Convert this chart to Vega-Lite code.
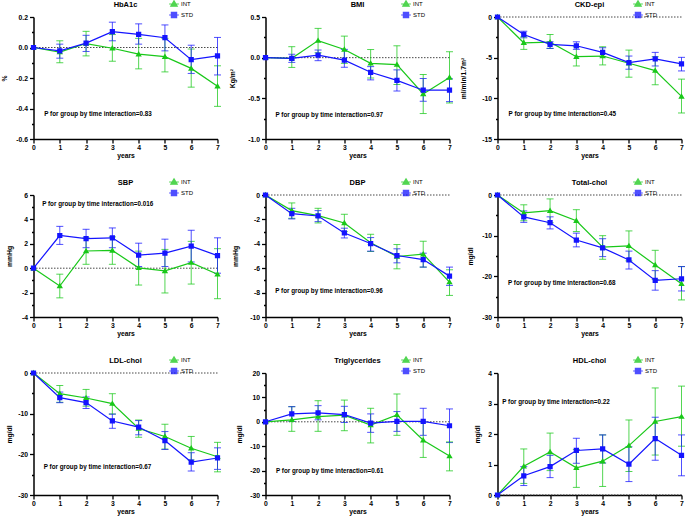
{
"$schema":"https://vega.github.io/schema/vega-lite/v6.json",
"padding":{"left":1.5,"top":-1,"right":2,"bottom":2},
"background":"white",
"columns":3,
"spacing":{"row":56,"column":48},
"bounds":"flush",
"data":{"name":"main"},
"datasets":{
"notes":[
{"p":"HbA1c","x":0.41,"y":-0.437,"t":"P for group by time interaction=0.83"},
{"p":"BMI","x":0.38,"y":-0.706,"t":"P for group by time interaction=0.97"},
{"p":"CKD-epi","x":0.42,"y":-11.87,"t":"P for group by time interaction=0.45"},
{"p":"SBP","x":0.33,"y":5.24,"t":"P for group by time interaction=0.016"},
{"p":"DBP","x":0.37,"y":-7.9,"t":"P for group by time interaction=0.96"},
{"p":"Total-chol","x":0.40,"y":-21.65,"t":"P for group by time interaction=0.68"},
{"p":"LDL-chol","x":0.39,"y":-23.1,"t":"P for group by time interaction=0.67"},
{"p":"Triglycerides","x":0.40,"y":-20.1,"t":"P for group by time interaction=0.61"},
{"p":"HDL-chol","x":0.18,"y":3.04,"t":"P for group by time interaction=0.22"}
],
"main":[
{"p":"HbA1c","g":"INT","x":0,"m":0,"lo":0,"hi":0},
{"p":"HbA1c","g":"INT","x":1,"m":-0.03,"lo":-0.10,"hi":0.044},
{"p":"HbA1c","g":"INT","x":2,"m":0.026,"lo":-0.055,"hi":0.106},
{"p":"HbA1c","g":"INT","x":3,"m":-0.005,"lo":-0.09,"hi":0.085},
{"p":"HbA1c","g":"INT","x":4,"m":-0.044,"lo":-0.14,"hi":0.06},
{"p":"HbA1c","g":"INT","x":5,"m":-0.06,"lo":-0.16,"hi":0.06},
{"p":"HbA1c","g":"INT","x":6,"m":-0.137,"lo":-0.26,"hi":-0.01},
{"p":"HbA1c","g":"INT","x":7,"m":-0.254,"lo":-0.386,"hi":-0.12},
{"p":"HbA1c","g":"STD","x":0,"m":0,"lo":0,"hi":0},
{"p":"HbA1c","g":"STD","x":1,"m":-0.022,"lo":-0.07,"hi":0.022},
{"p":"HbA1c","g":"STD","x":2,"m":0.029,"lo":-0.026,"hi":0.08},
{"p":"HbA1c","g":"STD","x":3,"m":0.104,"lo":0.044,"hi":0.166},
{"p":"HbA1c","g":"STD","x":4,"m":0.086,"lo":0.022,"hi":0.155},
{"p":"HbA1c","g":"STD","x":5,"m":0.064,"lo":-0.022,"hi":0.148},
{"p":"HbA1c","g":"STD","x":6,"m":-0.08,"lo":-0.17,"hi":0.015},
{"p":"HbA1c","g":"STD","x":7,"m":-0.055,"lo":-0.18,"hi":0.066},
{"p":"BMI","g":"INT","x":0,"m":0,"lo":0,"hi":0},
{"p":"BMI","g":"INT","x":1,"m":-0.008,"lo":-0.12,"hi":0.135},
{"p":"BMI","g":"INT","x":2,"m":0.21,"lo":0.06,"hi":0.36},
{"p":"BMI","g":"INT","x":3,"m":0.10,"lo":-0.07,"hi":0.265},
{"p":"BMI","g":"INT","x":4,"m":-0.07,"lo":-0.25,"hi":0.10},
{"p":"BMI","g":"INT","x":5,"m":-0.085,"lo":-0.33,"hi":0.146},
{"p":"BMI","g":"INT","x":6,"m":-0.447,"lo":-0.687,"hi":-0.207},
{"p":"BMI","g":"INT","x":7,"m":-0.244,"lo":-0.557,"hi":0.073},
{"p":"BMI","g":"STD","x":0,"m":0,"lo":0,"hi":0},
{"p":"BMI","g":"STD","x":1,"m":-0.008,"lo":-0.058,"hi":0.042},
{"p":"BMI","g":"STD","x":2,"m":0.03,"lo":-0.037,"hi":0.094},
{"p":"BMI","g":"STD","x":3,"m":-0.03,"lo":-0.118,"hi":0.102},
{"p":"BMI","g":"STD","x":4,"m":-0.18,"lo":-0.273,"hi":-0.11},
{"p":"BMI","g":"STD","x":5,"m":-0.28,"lo":-0.41,"hi":-0.15},
{"p":"BMI","g":"STD","x":6,"m":-0.40,"lo":-0.536,"hi":-0.256},
{"p":"BMI","g":"STD","x":7,"m":-0.40,"lo":-0.54,"hi":-0.26},
{"p":"CKD-epi","g":"INT","x":0,"m":0,"lo":0,"hi":0},
{"p":"CKD-epi","g":"INT","x":1,"m":-3.17,"lo":-3.98,"hi":-2.44},
{"p":"CKD-epi","g":"INT","x":2,"m":-3.09,"lo":-3.86,"hi":-2.15},
{"p":"CKD-epi","g":"INT","x":3,"m":-4.88,"lo":-6.02,"hi":-3.66},
{"p":"CKD-epi","g":"INT","x":4,"m":-4.8,"lo":-5.89,"hi":-3.66},
{"p":"CKD-epi","g":"INT","x":5,"m":-5.69,"lo":-7.4,"hi":-4.07},
{"p":"CKD-epi","g":"INT","x":6,"m":-6.59,"lo":-8.33,"hi":-4.88},
{"p":"CKD-epi","g":"INT","x":7,"m":-9.76,"lo":-11.8,"hi":-7.64},
{"p":"CKD-epi","g":"STD","x":0,"m":0,"lo":0,"hi":0},
{"p":"CKD-epi","g":"STD","x":1,"m":-2.15,"lo":-2.56,"hi":-1.75},
{"p":"CKD-epi","g":"STD","x":2,"m":-3.37,"lo":-3.86,"hi":-3.05},
{"p":"CKD-epi","g":"STD","x":3,"m":-3.54,"lo":-3.98,"hi":-3.05},
{"p":"CKD-epi","g":"STD","x":4,"m":-4.35,"lo":-4.88,"hi":-3.78},
{"p":"CKD-epi","g":"STD","x":5,"m":-5.61,"lo":-6.42,"hi":-4.8},
{"p":"CKD-epi","g":"STD","x":6,"m":-5.16,"lo":-6.02,"hi":-4.35},
{"p":"CKD-epi","g":"STD","x":7,"m":-5.77,"lo":-6.63,"hi":-4.96},
{"p":"SBP","g":"INT","x":0,"m":0,"lo":0,"hi":0},
{"p":"SBP","g":"INT","x":1,"m":-1.46,"lo":-2.43,"hi":-0.49},
{"p":"SBP","g":"INT","x":2,"m":1.41,"lo":0.32,"hi":2.49},
{"p":"SBP","g":"INT","x":3,"m":1.46,"lo":0.32,"hi":2.57},
{"p":"SBP","g":"INT","x":4,"m":0.03,"lo":-1.38,"hi":1.4},
{"p":"SBP","g":"INT","x":5,"m":-0.22,"lo":-2.03,"hi":1.54},
{"p":"SBP","g":"INT","x":6,"m":0.46,"lo":-1.3,"hi":2.2},
{"p":"SBP","g":"INT","x":7,"m":-0.49,"lo":-2.5,"hi":1.6},
{"p":"SBP","g":"STD","x":0,"m":0,"lo":0,"hi":0},
{"p":"SBP","g":"STD","x":1,"m":2.68,"lo":1.95,"hi":3.43},
{"p":"SBP","g":"STD","x":2,"m":2.43,"lo":1.68,"hi":3.19},
{"p":"SBP","g":"STD","x":3,"m":2.49,"lo":1.68,"hi":3.30},
{"p":"SBP","g":"STD","x":4,"m":1.08,"lo":0.14,"hi":2.05},
{"p":"SBP","g":"STD","x":5,"m":1.24,"lo":0.14,"hi":2.38},
{"p":"SBP","g":"STD","x":6,"m":1.81,"lo":0.51,"hi":3.11},
{"p":"SBP","g":"STD","x":7,"m":1.03,"lo":-0.41,"hi":2.49},
{"p":"DBP","g":"INT","x":0,"m":0,"lo":0,"hi":0},
{"p":"DBP","g":"INT","x":1,"m":-1.28,"lo":-1.91,"hi":-0.65},
{"p":"DBP","g":"INT","x":2,"m":-1.69,"lo":-2.29,"hi":-1.09},
{"p":"DBP","g":"INT","x":3,"m":-2.29,"lo":-3.0,"hi":-1.58},
{"p":"DBP","g":"INT","x":4,"m":-3.92,"lo":-4.63,"hi":-3.22},
{"p":"DBP","g":"INT","x":5,"m":-5.04,"lo":-6.05,"hi":-4.06},
{"p":"DBP","g":"INT","x":6,"m":-4.85,"lo":-5.91,"hi":-3.79},
{"p":"DBP","g":"INT","x":7,"m":-7.14,"lo":-8.23,"hi":-6.13},
{"p":"DBP","g":"STD","x":0,"m":0,"lo":0,"hi":0},
{"p":"DBP","g":"STD","x":1,"m":-1.53,"lo":-1.96,"hi":-1.09},
{"p":"DBP","g":"STD","x":2,"m":-1.72,"lo":-2.18,"hi":-1.28},
{"p":"DBP","g":"STD","x":3,"m":-3.11,"lo":-3.52,"hi":-2.72},
{"p":"DBP","g":"STD","x":4,"m":-3.98,"lo":-4.6,"hi":-3.49},
{"p":"DBP","g":"STD","x":5,"m":-4.96,"lo":-5.56,"hi":-4.41},
{"p":"DBP","g":"STD","x":6,"m":-5.29,"lo":-5.91,"hi":-4.77},
{"p":"DBP","g":"STD","x":7,"m":-6.65,"lo":-7.41,"hi":-5.91},
{"p":"Total-chol","g":"INT","x":0,"m":0,"lo":0,"hi":0},
{"p":"Total-chol","g":"INT","x":1,"m":-4.41,"lo":-6.33,"hi":-2.41},
{"p":"Total-chol","g":"INT","x":2,"m":-3.85,"lo":-6.82,"hi":-0.96},
{"p":"Total-chol","g":"INT","x":3,"m":-6.33,"lo":-8.99,"hi":-3.61},
{"p":"Total-chol","g":"INT","x":4,"m":-12.8,"lo":-15.8,"hi":-10.0},
{"p":"Total-chol","g":"INT","x":5,"m":-12.5,"lo":-16.2,"hi":-8.83},
{"p":"Total-chol","g":"INT","x":6,"m":-17.2,"lo":-20.8,"hi":-13.6},
{"p":"Total-chol","g":"INT","x":7,"m":-21.8,"lo":-25.8,"hi":-17.6},
{"p":"Total-chol","g":"STD","x":0,"m":0,"lo":0,"hi":0},
{"p":"Total-chol","g":"STD","x":1,"m":-5.37,"lo":-6.73,"hi":-3.93},
{"p":"Total-chol","g":"STD","x":2,"m":-6.82,"lo":-8.34,"hi":-5.37},
{"p":"Total-chol","g":"STD","x":3,"m":-11.07,"lo":-12.75,"hi":-9.38},
{"p":"Total-chol","g":"STD","x":4,"m":-13.0,"lo":-15.15,"hi":-10.75},
{"p":"Total-chol","g":"STD","x":5,"m":-15.96,"lo":-18.2,"hi":-13.8},
{"p":"Total-chol","g":"STD","x":6,"m":-21.0,"lo":-23.4,"hi":-18.6},
{"p":"Total-chol","g":"STD","x":7,"m":-20.6,"lo":-23.6,"hi":-17.6},
{"p":"LDL-chol","g":"INT","x":0,"m":0,"lo":0,"hi":0},
{"p":"LDL-chol","g":"INT","x":1,"m":-5.09,"lo":-7.2,"hi":-3.07},
{"p":"LDL-chol","g":"INT","x":2,"m":-6.14,"lo":-8.16,"hi":-4.04},
{"p":"LDL-chol","g":"INT","x":3,"m":-7.52,"lo":-10.1,"hi":-5.09},
{"p":"LDL-chol","g":"INT","x":4,"m":-13.66,"lo":-15.8,"hi":-11.56},
{"p":"LDL-chol","g":"INT","x":5,"m":-15.6,"lo":-18.7,"hi":-12.6},
{"p":"LDL-chol","g":"INT","x":6,"m":-18.5,"lo":-21.4,"hi":-15.6},
{"p":"LDL-chol","g":"INT","x":7,"m":-20.6,"lo":-24.3,"hi":-17.05},
{"p":"LDL-chol","g":"STD","x":0,"m":0,"lo":0,"hi":0},
{"p":"LDL-chol","g":"STD","x":1,"m":-6.06,"lo":-7.3,"hi":-4.69},
{"p":"LDL-chol","g":"STD","x":2,"m":-7.27,"lo":-8.73,"hi":-5.9},
{"p":"LDL-chol","g":"STD","x":3,"m":-11.8,"lo":-13.6,"hi":-10.1},
{"p":"LDL-chol","g":"STD","x":4,"m":-13.3,"lo":-15.2,"hi":-11.7},
{"p":"LDL-chol","g":"STD","x":5,"m":-16.6,"lo":-18.8,"hi":-14.4},
{"p":"LDL-chol","g":"STD","x":6,"m":-21.9,"lo":-24.1,"hi":-19.6},
{"p":"LDL-chol","g":"STD","x":7,"m":-20.9,"lo":-23.7,"hi":-18.4},
{"p":"Triglycerides","g":"INT","x":0,"m":0,"lo":0,"hi":0},
{"p":"Triglycerides","g":"INT","x":1,"m":0.81,"lo":-3.9,"hi":6.2},
{"p":"Triglycerides","g":"INT","x":2,"m":2.16,"lo":-3.9,"hi":8.65},
{"p":"Triglycerides","g":"INT","x":3,"m":2.7,"lo":-3.65,"hi":8.9},
{"p":"Triglycerides","g":"INT","x":4,"m":-1.35,"lo":-8.65,"hi":5.54},
{"p":"Triglycerides","g":"INT","x":5,"m":2.84,"lo":-5.54,"hi":11.4},
{"p":"Triglycerides","g":"INT","x":6,"m":-7.57,"lo":-14.6,"hi":-0.14},
{"p":"Triglycerides","g":"INT","x":7,"m":-14.05,"lo":-20.1,"hi":-8.24},
{"p":"Triglycerides","g":"STD","x":0,"m":0,"lo":0,"hi":0},
{"p":"Triglycerides","g":"STD","x":1,"m":3.24,"lo":0.14,"hi":6.2},
{"p":"Triglycerides","g":"STD","x":2,"m":3.65,"lo":0.81,"hi":6.62},
{"p":"Triglycerides","g":"STD","x":3,"m":2.97,"lo":-0.27,"hi":6.35},
{"p":"Triglycerides","g":"STD","x":4,"m":-0.54,"lo":-4.32,"hi":3.24},
{"p":"Triglycerides","g":"STD","x":5,"m":0.14,"lo":-3.92,"hi":4.19},
{"p":"Triglycerides","g":"STD","x":6,"m":0.14,"lo":-5.54,"hi":5.54},
{"p":"Triglycerides","g":"STD","x":7,"m":-1.62,"lo":-8.51,"hi":5.27},
{"p":"HDL-chol","g":"INT","x":0,"m":0,"lo":0,"hi":0},
{"p":"HDL-chol","g":"INT","x":1,"m":0.94,"lo":0.38,"hi":1.51},
{"p":"HDL-chol","g":"INT","x":2,"m":1.41,"lo":0.8,"hi":2.03},
{"p":"HDL-chol","g":"INT","x":3,"m":0.89,"lo":0.25,"hi":1.49},
{"p":"HDL-chol","g":"INT","x":4,"m":1.11,"lo":0.28,"hi":1.97},
{"p":"HDL-chol","g":"INT","x":5,"m":1.62,"lo":0.77,"hi":2.46},
{"p":"HDL-chol","g":"INT","x":6,"m":2.41,"lo":1.31,"hi":3.51},
{"p":"HDL-chol","g":"INT","x":7,"m":2.57,"lo":1.6,"hi":3.57},
{"p":"HDL-chol","g":"STD","x":0,"m":0,"lo":0,"hi":0},
{"p":"HDL-chol","g":"STD","x":1,"m":0.63,"lo":0.31,"hi":0.93},
{"p":"HDL-chol","g":"STD","x":2,"m":0.93,"lo":0.57,"hi":1.30},
{"p":"HDL-chol","g":"STD","x":3,"m":1.46,"lo":1.04,"hi":1.86},
{"p":"HDL-chol","g":"STD","x":4,"m":1.51,"lo":1.05,"hi":1.97},
{"p":"HDL-chol","g":"STD","x":5,"m":1.01,"lo":0.44,"hi":1.58},
{"p":"HDL-chol","g":"STD","x":6,"m":1.85,"lo":1.14,"hi":2.55},
{"p":"HDL-chol","g":"STD","x":7,"m":1.30,"lo":0.63,"hi":1.97}
]},
"concat":[
{"width":184,"height":122,"title":"HbA1c","layer":[
 {"transform":[{"filter":"datum.p=='HbA1c' && datum.x==0 && datum.g=='INT'"}],"mark":{"type":"rule","strokeDash":[1.5,1.5],"color":"#333","strokeWidth":0.9},"encoding":{"y":{"datum":0,"type":"quantitative","scale":{"domain":[-0.6,0.2],"nice":false,"zero":false},"axis":{"title":"%","titlePadding":8,"values":[-0.6,-0.5,-0.4,-0.3,-0.2,-0.1,0,0.1,0.2],"format":".1f","labelExpr":"abs(round(datum.value*10))%2==0 ? replace(datum.label,'−','-') : ''","tickSize":{"condition":{"test":"abs(round(datum.value*10))%2==0","value":4},"value":2}}}}},
 {"transform":[{"filter":"datum.p=='HbA1c' && datum.x>0"}],"mark":{"type":"errorbar","ticks":true,"size":7,"thickness":1,"opacity":0.75},"encoding":{"x":{"field":"x","type":"quantitative","scale":{"domain":[0,7],"nice":false},"axis":{"title":"years","values":[0,1,2,3,4,5,6,7],"format":"d"}},"y":{"field":"lo","type":"quantitative","scale":{"domain":[-0.6,0.2],"nice":false,"zero":false},"axis":{"title":"%","titlePadding":8,"values":[-0.6,-0.5,-0.4,-0.3,-0.2,-0.1,0,0.1,0.2],"format":".1f","labelExpr":"abs(round(datum.value*10))%2==0 ? replace(datum.label,'−','-') : ''","tickSize":{"condition":{"test":"abs(round(datum.value*10))%2==0","value":4},"value":2}}},"y2":{"field":"hi"},"color":{"field":"g","type":"nominal","scale":{"domain":["INT","STD"],"range":["#19c819","#1414ff"]}}}},
 {"transform":[{"filter":"datum.p=='HbA1c'"}],"mark":{"type":"line","strokeWidth":1.2},"encoding":{"x":{"field":"x","type":"quantitative","scale":{"domain":[0,7],"nice":false},"axis":{"title":"years","values":[0,1,2,3,4,5,6,7],"format":"d"}},"y":{"field":"m","type":"quantitative","scale":{"domain":[-0.6,0.2],"nice":false,"zero":false},"axis":{"title":"%","titlePadding":8,"values":[-0.6,-0.5,-0.4,-0.3,-0.2,-0.1,0,0.1,0.2],"format":".1f","labelExpr":"abs(round(datum.value*10))%2==0 ? replace(datum.label,'−','-') : ''","tickSize":{"condition":{"test":"abs(round(datum.value*10))%2==0","value":4},"value":2}}},"color":{"field":"g","type":"nominal","scale":{"domain":["INT","STD"],"range":["#19c819","#1414ff"]}}}},
 {"transform":[{"filter":"datum.p=='HbA1c'"}],"mark":{"type":"point","filled":true,"size":56,"strokeWidth":0,"opacity":1},"encoding":{"x":{"field":"x","type":"quantitative","scale":{"domain":[0,7],"nice":false},"axis":{"title":"years","values":[0,1,2,3,4,5,6,7],"format":"d"}},"y":{"field":"m","type":"quantitative","scale":{"domain":[-0.6,0.2],"nice":false,"zero":false},"axis":{"title":"%","titlePadding":8,"values":[-0.6,-0.5,-0.4,-0.3,-0.2,-0.1,0,0.1,0.2],"format":".1f","labelExpr":"abs(round(datum.value*10))%2==0 ? replace(datum.label,'−','-') : ''","tickSize":{"condition":{"test":"abs(round(datum.value*10))%2==0","value":4},"value":2}}},"color":{"field":"g","type":"nominal","scale":{"domain":["INT","STD"],"range":["#19c819","#1414ff"]},"legend":{"title":null,"orient":"none","legendX":136,"legendY":-17.5,"encode":{"symbols":{"update":{"stroke":{"signal":"datum.value=='INT' ? '#19c819' : '#1414ff'"},"strokeWidth":{"value":1.2}}}}}},"shape":{"field":"g","type":"nominal","scale":{"domain":["INT","STD"],"range":["M-1.3,0H1.3M0,-0.85L0.85,0.6L-0.85,0.6Z","M-1.3,0H1.3M-0.7,-0.7H0.7V0.7H-0.7Z"]},"legend":{"title":null,"orient":"none","legendX":136,"legendY":-17.5,"encode":{"symbols":{"update":{"stroke":{"signal":"datum.value=='INT' ? '#19c819' : '#1414ff'"},"strokeWidth":{"value":1.2}}}}}}}},
 {"data":{"name":"notes"},"transform":[{"filter":"datum.p=='HbA1c'"}],"mark":{"type":"text","align":"left","baseline":"middle","fontWeight":"bold","fontSize":6.3,"color":"black"},"encoding":{"x":{"field":"x","type":"quantitative","axis":{"title":"years","values":[0,1,2,3,4,5,6,7],"format":"d"}},"y":{"field":"y","type":"quantitative","axis":{"title":"%","titlePadding":8,"values":[-0.6,-0.5,-0.4,-0.3,-0.2,-0.1,0,0.1,0.2],"format":".1f","labelExpr":"abs(round(datum.value*10))%2==0 ? replace(datum.label,'−','-') : ''","tickSize":{"condition":{"test":"abs(round(datum.value*10))%2==0","value":4},"value":2}}},"text":{"field":"t"}}}
]},
{"width":184,"height":122,"title":"BMI","layer":[
 {"transform":[{"filter":"datum.p=='BMI' && datum.x==0 && datum.g=='INT'"}],"mark":{"type":"rule","strokeDash":[1.5,1.5],"color":"#333","strokeWidth":0.9},"encoding":{"y":{"datum":0,"type":"quantitative","scale":{"domain":[-1,0.5],"nice":false,"zero":false},"axis":{"title":"Kg/m²","titlePadding":12,"values":[-1,-0.75,-0.5,-0.25,0,0.25,0.5],"format":".1f","labelExpr":"abs(round(datum.value*4))%2==0 ? replace(datum.label,'−','-') : ''","tickSize":{"condition":{"test":"abs(round(datum.value*4))%2==0","value":4},"value":2}}}}},
 {"transform":[{"filter":"datum.p=='BMI' && datum.x>0"}],"mark":{"type":"errorbar","ticks":true,"size":7,"thickness":1,"opacity":0.75},"encoding":{"x":{"field":"x","type":"quantitative","scale":{"domain":[0,7],"nice":false},"axis":{"title":"years","values":[0,1,2,3,4,5,6,7],"format":"d"}},"y":{"field":"lo","type":"quantitative","scale":{"domain":[-1,0.5],"nice":false,"zero":false},"axis":{"title":"Kg/m²","titlePadding":12,"values":[-1,-0.75,-0.5,-0.25,0,0.25,0.5],"format":".1f","labelExpr":"abs(round(datum.value*4))%2==0 ? replace(datum.label,'−','-') : ''","tickSize":{"condition":{"test":"abs(round(datum.value*4))%2==0","value":4},"value":2}}},"y2":{"field":"hi"},"color":{"field":"g","type":"nominal","scale":{"domain":["INT","STD"],"range":["#19c819","#1414ff"]}}}},
 {"transform":[{"filter":"datum.p=='BMI'"}],"mark":{"type":"line","strokeWidth":1.2},"encoding":{"x":{"field":"x","type":"quantitative","scale":{"domain":[0,7],"nice":false},"axis":{"title":"years","values":[0,1,2,3,4,5,6,7],"format":"d"}},"y":{"field":"m","type":"quantitative","scale":{"domain":[-1,0.5],"nice":false,"zero":false},"axis":{"title":"Kg/m²","titlePadding":12,"values":[-1,-0.75,-0.5,-0.25,0,0.25,0.5],"format":".1f","labelExpr":"abs(round(datum.value*4))%2==0 ? replace(datum.label,'−','-') : ''","tickSize":{"condition":{"test":"abs(round(datum.value*4))%2==0","value":4},"value":2}}},"color":{"field":"g","type":"nominal","scale":{"domain":["INT","STD"],"range":["#19c819","#1414ff"]}}}},
 {"transform":[{"filter":"datum.p=='BMI'"}],"mark":{"type":"point","filled":true,"size":56,"strokeWidth":0,"opacity":1},"encoding":{"x":{"field":"x","type":"quantitative","scale":{"domain":[0,7],"nice":false},"axis":{"title":"years","values":[0,1,2,3,4,5,6,7],"format":"d"}},"y":{"field":"m","type":"quantitative","scale":{"domain":[-1,0.5],"nice":false,"zero":false},"axis":{"title":"Kg/m²","titlePadding":12,"values":[-1,-0.75,-0.5,-0.25,0,0.25,0.5],"format":".1f","labelExpr":"abs(round(datum.value*4))%2==0 ? replace(datum.label,'−','-') : ''","tickSize":{"condition":{"test":"abs(round(datum.value*4))%2==0","value":4},"value":2}}},"color":{"field":"g","type":"nominal","scale":{"domain":["INT","STD"],"range":["#19c819","#1414ff"]},"legend":{"title":null,"orient":"none","legendX":136,"legendY":-17.5,"encode":{"symbols":{"update":{"stroke":{"signal":"datum.value=='INT' ? '#19c819' : '#1414ff'"},"strokeWidth":{"value":1.2}}}}}},"shape":{"field":"g","type":"nominal","scale":{"domain":["INT","STD"],"range":["M-1.3,0H1.3M0,-0.85L0.85,0.6L-0.85,0.6Z","M-1.3,0H1.3M-0.7,-0.7H0.7V0.7H-0.7Z"]},"legend":{"title":null,"orient":"none","legendX":136,"legendY":-17.5,"encode":{"symbols":{"update":{"stroke":{"signal":"datum.value=='INT' ? '#19c819' : '#1414ff'"},"strokeWidth":{"value":1.2}}}}}}}},
 {"data":{"name":"notes"},"transform":[{"filter":"datum.p=='BMI'"}],"mark":{"type":"text","align":"left","baseline":"middle","fontWeight":"bold","fontSize":6.3,"color":"black"},"encoding":{"x":{"field":"x","type":"quantitative","axis":{"title":"years","values":[0,1,2,3,4,5,6,7],"format":"d"}},"y":{"field":"y","type":"quantitative","axis":{"title":"Kg/m²","titlePadding":12,"values":[-1,-0.75,-0.5,-0.25,0,0.25,0.5],"format":".1f","labelExpr":"abs(round(datum.value*4))%2==0 ? replace(datum.label,'−','-') : ''","tickSize":{"condition":{"test":"abs(round(datum.value*4))%2==0","value":4},"value":2}}},"text":{"field":"t"}}}
]},
{"width":184,"height":122,"title":"CKD-epi","layer":[
 {"transform":[{"filter":"datum.p=='CKD-epi' && datum.x==0 && datum.g=='INT'"}],"mark":{"type":"rule","strokeDash":[1.5,1.5],"color":"#333","strokeWidth":0.9},"encoding":{"y":{"datum":0,"type":"quantitative","scale":{"domain":[-15,0],"nice":false,"zero":false},"axis":{"title":"ml/min/1.7m²","titlePadding":15,"values":[-15,-12.5,-10,-7.5,-5,-2.5,0],"format":"d","labelExpr":"abs(round(datum.value*2))%10==0 ? replace(datum.label,'−','-') : ''","tickSize":{"condition":{"test":"abs(round(datum.value*2))%10==0","value":4},"value":2}}}}},
 {"transform":[{"filter":"datum.p=='CKD-epi' && datum.x>0"}],"mark":{"type":"errorbar","ticks":true,"size":7,"thickness":1,"opacity":0.75},"encoding":{"x":{"field":"x","type":"quantitative","scale":{"domain":[0,7],"nice":false},"axis":{"title":"years","values":[0,1,2,3,4,5,6,7],"format":"d"}},"y":{"field":"lo","type":"quantitative","scale":{"domain":[-15,0],"nice":false,"zero":false},"axis":{"title":"ml/min/1.7m²","titlePadding":15,"values":[-15,-12.5,-10,-7.5,-5,-2.5,0],"format":"d","labelExpr":"abs(round(datum.value*2))%10==0 ? replace(datum.label,'−','-') : ''","tickSize":{"condition":{"test":"abs(round(datum.value*2))%10==0","value":4},"value":2}}},"y2":{"field":"hi"},"color":{"field":"g","type":"nominal","scale":{"domain":["INT","STD"],"range":["#19c819","#1414ff"]}}}},
 {"transform":[{"filter":"datum.p=='CKD-epi'"}],"mark":{"type":"line","strokeWidth":1.2},"encoding":{"x":{"field":"x","type":"quantitative","scale":{"domain":[0,7],"nice":false},"axis":{"title":"years","values":[0,1,2,3,4,5,6,7],"format":"d"}},"y":{"field":"m","type":"quantitative","scale":{"domain":[-15,0],"nice":false,"zero":false},"axis":{"title":"ml/min/1.7m²","titlePadding":15,"values":[-15,-12.5,-10,-7.5,-5,-2.5,0],"format":"d","labelExpr":"abs(round(datum.value*2))%10==0 ? replace(datum.label,'−','-') : ''","tickSize":{"condition":{"test":"abs(round(datum.value*2))%10==0","value":4},"value":2}}},"color":{"field":"g","type":"nominal","scale":{"domain":["INT","STD"],"range":["#19c819","#1414ff"]}}}},
 {"transform":[{"filter":"datum.p=='CKD-epi'"}],"mark":{"type":"point","filled":true,"size":56,"strokeWidth":0,"opacity":1},"encoding":{"x":{"field":"x","type":"quantitative","scale":{"domain":[0,7],"nice":false},"axis":{"title":"years","values":[0,1,2,3,4,5,6,7],"format":"d"}},"y":{"field":"m","type":"quantitative","scale":{"domain":[-15,0],"nice":false,"zero":false},"axis":{"title":"ml/min/1.7m²","titlePadding":15,"values":[-15,-12.5,-10,-7.5,-5,-2.5,0],"format":"d","labelExpr":"abs(round(datum.value*2))%10==0 ? replace(datum.label,'−','-') : ''","tickSize":{"condition":{"test":"abs(round(datum.value*2))%10==0","value":4},"value":2}}},"color":{"field":"g","type":"nominal","scale":{"domain":["INT","STD"],"range":["#19c819","#1414ff"]},"legend":{"title":null,"orient":"none","legendX":136,"legendY":-17.5,"encode":{"symbols":{"update":{"stroke":{"signal":"datum.value=='INT' ? '#19c819' : '#1414ff'"},"strokeWidth":{"value":1.2}}}}}},"shape":{"field":"g","type":"nominal","scale":{"domain":["INT","STD"],"range":["M-1.3,0H1.3M0,-0.85L0.85,0.6L-0.85,0.6Z","M-1.3,0H1.3M-0.7,-0.7H0.7V0.7H-0.7Z"]},"legend":{"title":null,"orient":"none","legendX":136,"legendY":-17.5,"encode":{"symbols":{"update":{"stroke":{"signal":"datum.value=='INT' ? '#19c819' : '#1414ff'"},"strokeWidth":{"value":1.2}}}}}}}},
 {"data":{"name":"notes"},"transform":[{"filter":"datum.p=='CKD-epi'"}],"mark":{"type":"text","align":"left","baseline":"middle","fontWeight":"bold","fontSize":6.3,"color":"black"},"encoding":{"x":{"field":"x","type":"quantitative","axis":{"title":"years","values":[0,1,2,3,4,5,6,7],"format":"d"}},"y":{"field":"y","type":"quantitative","axis":{"title":"ml/min/1.7m²","titlePadding":15,"values":[-15,-12.5,-10,-7.5,-5,-2.5,0],"format":"d","labelExpr":"abs(round(datum.value*2))%10==0 ? replace(datum.label,'−','-') : ''","tickSize":{"condition":{"test":"abs(round(datum.value*2))%10==0","value":4},"value":2}}},"text":{"field":"t"}}}
]},
{"width":184,"height":122,"title":"SBP","layer":[
 {"transform":[{"filter":"datum.p=='SBP' && datum.x==0 && datum.g=='INT'"}],"mark":{"type":"rule","strokeDash":[1.5,1.5],"color":"#333","strokeWidth":0.9},"encoding":{"y":{"datum":0,"type":"quantitative","scale":{"domain":[-4,6],"nice":false,"zero":false},"axis":{"title":"mmHg","titlePadding":8.5,"values":[-4,-3,-2,-1,0,1,2,3,4,5,6],"format":"d","labelExpr":"abs(round(datum.value))%2==0 ? replace(datum.label,'−','-') : ''","tickSize":{"condition":{"test":"abs(round(datum.value))%2==0","value":4},"value":2}}}}},
 {"transform":[{"filter":"datum.p=='SBP' && datum.x>0"}],"mark":{"type":"errorbar","ticks":true,"size":7,"thickness":1,"opacity":0.75},"encoding":{"x":{"field":"x","type":"quantitative","scale":{"domain":[0,7],"nice":false},"axis":{"title":"years","values":[0,1,2,3,4,5,6,7],"format":"d"}},"y":{"field":"lo","type":"quantitative","scale":{"domain":[-4,6],"nice":false,"zero":false},"axis":{"title":"mmHg","titlePadding":8.5,"values":[-4,-3,-2,-1,0,1,2,3,4,5,6],"format":"d","labelExpr":"abs(round(datum.value))%2==0 ? replace(datum.label,'−','-') : ''","tickSize":{"condition":{"test":"abs(round(datum.value))%2==0","value":4},"value":2}}},"y2":{"field":"hi"},"color":{"field":"g","type":"nominal","scale":{"domain":["INT","STD"],"range":["#19c819","#1414ff"]}}}},
 {"transform":[{"filter":"datum.p=='SBP'"}],"mark":{"type":"line","strokeWidth":1.2},"encoding":{"x":{"field":"x","type":"quantitative","scale":{"domain":[0,7],"nice":false},"axis":{"title":"years","values":[0,1,2,3,4,5,6,7],"format":"d"}},"y":{"field":"m","type":"quantitative","scale":{"domain":[-4,6],"nice":false,"zero":false},"axis":{"title":"mmHg","titlePadding":8.5,"values":[-4,-3,-2,-1,0,1,2,3,4,5,6],"format":"d","labelExpr":"abs(round(datum.value))%2==0 ? replace(datum.label,'−','-') : ''","tickSize":{"condition":{"test":"abs(round(datum.value))%2==0","value":4},"value":2}}},"color":{"field":"g","type":"nominal","scale":{"domain":["INT","STD"],"range":["#19c819","#1414ff"]}}}},
 {"transform":[{"filter":"datum.p=='SBP'"}],"mark":{"type":"point","filled":true,"size":56,"strokeWidth":0,"opacity":1},"encoding":{"x":{"field":"x","type":"quantitative","scale":{"domain":[0,7],"nice":false},"axis":{"title":"years","values":[0,1,2,3,4,5,6,7],"format":"d"}},"y":{"field":"m","type":"quantitative","scale":{"domain":[-4,6],"nice":false,"zero":false},"axis":{"title":"mmHg","titlePadding":8.5,"values":[-4,-3,-2,-1,0,1,2,3,4,5,6],"format":"d","labelExpr":"abs(round(datum.value))%2==0 ? replace(datum.label,'−','-') : ''","tickSize":{"condition":{"test":"abs(round(datum.value))%2==0","value":4},"value":2}}},"color":{"field":"g","type":"nominal","scale":{"domain":["INT","STD"],"range":["#19c819","#1414ff"]},"legend":{"title":null,"orient":"none","legendX":136,"legendY":-17.5,"encode":{"symbols":{"update":{"stroke":{"signal":"datum.value=='INT' ? '#19c819' : '#1414ff'"},"strokeWidth":{"value":1.2}}}}}},"shape":{"field":"g","type":"nominal","scale":{"domain":["INT","STD"],"range":["M-1.3,0H1.3M0,-0.85L0.85,0.6L-0.85,0.6Z","M-1.3,0H1.3M-0.7,-0.7H0.7V0.7H-0.7Z"]},"legend":{"title":null,"orient":"none","legendX":136,"legendY":-17.5,"encode":{"symbols":{"update":{"stroke":{"signal":"datum.value=='INT' ? '#19c819' : '#1414ff'"},"strokeWidth":{"value":1.2}}}}}}}},
 {"data":{"name":"notes"},"transform":[{"filter":"datum.p=='SBP'"}],"mark":{"type":"text","align":"left","baseline":"middle","fontWeight":"bold","fontSize":6.3,"color":"black"},"encoding":{"x":{"field":"x","type":"quantitative","axis":{"title":"years","values":[0,1,2,3,4,5,6,7],"format":"d"}},"y":{"field":"y","type":"quantitative","axis":{"title":"mmHg","titlePadding":8.5,"values":[-4,-3,-2,-1,0,1,2,3,4,5,6],"format":"d","labelExpr":"abs(round(datum.value))%2==0 ? replace(datum.label,'−','-') : ''","tickSize":{"condition":{"test":"abs(round(datum.value))%2==0","value":4},"value":2}}},"text":{"field":"t"}}}
]},
{"width":184,"height":122,"title":"DBP","layer":[
 {"transform":[{"filter":"datum.p=='DBP' && datum.x==0 && datum.g=='INT'"}],"mark":{"type":"rule","strokeDash":[1.5,1.5],"color":"#333","strokeWidth":0.9},"encoding":{"y":{"datum":0,"type":"quantitative","scale":{"domain":[-10,0],"nice":false,"zero":false},"axis":{"title":"mmHg","titlePadding":11,"values":[-10,-9,-8,-7,-6,-5,-4,-3,-2,-1,0],"format":"d","labelExpr":"abs(round(datum.value))%2==0 ? replace(datum.label,'−','-') : ''","tickSize":{"condition":{"test":"abs(round(datum.value))%2==0","value":4},"value":2}}}}},
 {"transform":[{"filter":"datum.p=='DBP' && datum.x>0"}],"mark":{"type":"errorbar","ticks":true,"size":7,"thickness":1,"opacity":0.75},"encoding":{"x":{"field":"x","type":"quantitative","scale":{"domain":[0,7],"nice":false},"axis":{"title":"years","values":[0,1,2,3,4,5,6,7],"format":"d"}},"y":{"field":"lo","type":"quantitative","scale":{"domain":[-10,0],"nice":false,"zero":false},"axis":{"title":"mmHg","titlePadding":11,"values":[-10,-9,-8,-7,-6,-5,-4,-3,-2,-1,0],"format":"d","labelExpr":"abs(round(datum.value))%2==0 ? replace(datum.label,'−','-') : ''","tickSize":{"condition":{"test":"abs(round(datum.value))%2==0","value":4},"value":2}}},"y2":{"field":"hi"},"color":{"field":"g","type":"nominal","scale":{"domain":["INT","STD"],"range":["#19c819","#1414ff"]}}}},
 {"transform":[{"filter":"datum.p=='DBP'"}],"mark":{"type":"line","strokeWidth":1.2},"encoding":{"x":{"field":"x","type":"quantitative","scale":{"domain":[0,7],"nice":false},"axis":{"title":"years","values":[0,1,2,3,4,5,6,7],"format":"d"}},"y":{"field":"m","type":"quantitative","scale":{"domain":[-10,0],"nice":false,"zero":false},"axis":{"title":"mmHg","titlePadding":11,"values":[-10,-9,-8,-7,-6,-5,-4,-3,-2,-1,0],"format":"d","labelExpr":"abs(round(datum.value))%2==0 ? replace(datum.label,'−','-') : ''","tickSize":{"condition":{"test":"abs(round(datum.value))%2==0","value":4},"value":2}}},"color":{"field":"g","type":"nominal","scale":{"domain":["INT","STD"],"range":["#19c819","#1414ff"]}}}},
 {"transform":[{"filter":"datum.p=='DBP'"}],"mark":{"type":"point","filled":true,"size":56,"strokeWidth":0,"opacity":1},"encoding":{"x":{"field":"x","type":"quantitative","scale":{"domain":[0,7],"nice":false},"axis":{"title":"years","values":[0,1,2,3,4,5,6,7],"format":"d"}},"y":{"field":"m","type":"quantitative","scale":{"domain":[-10,0],"nice":false,"zero":false},"axis":{"title":"mmHg","titlePadding":11,"values":[-10,-9,-8,-7,-6,-5,-4,-3,-2,-1,0],"format":"d","labelExpr":"abs(round(datum.value))%2==0 ? replace(datum.label,'−','-') : ''","tickSize":{"condition":{"test":"abs(round(datum.value))%2==0","value":4},"value":2}}},"color":{"field":"g","type":"nominal","scale":{"domain":["INT","STD"],"range":["#19c819","#1414ff"]},"legend":{"title":null,"orient":"none","legendX":136,"legendY":-17.5,"encode":{"symbols":{"update":{"stroke":{"signal":"datum.value=='INT' ? '#19c819' : '#1414ff'"},"strokeWidth":{"value":1.2}}}}}},"shape":{"field":"g","type":"nominal","scale":{"domain":["INT","STD"],"range":["M-1.3,0H1.3M0,-0.85L0.85,0.6L-0.85,0.6Z","M-1.3,0H1.3M-0.7,-0.7H0.7V0.7H-0.7Z"]},"legend":{"title":null,"orient":"none","legendX":136,"legendY":-17.5,"encode":{"symbols":{"update":{"stroke":{"signal":"datum.value=='INT' ? '#19c819' : '#1414ff'"},"strokeWidth":{"value":1.2}}}}}}}},
 {"data":{"name":"notes"},"transform":[{"filter":"datum.p=='DBP'"}],"mark":{"type":"text","align":"left","baseline":"middle","fontWeight":"bold","fontSize":6.3,"color":"black"},"encoding":{"x":{"field":"x","type":"quantitative","axis":{"title":"years","values":[0,1,2,3,4,5,6,7],"format":"d"}},"y":{"field":"y","type":"quantitative","axis":{"title":"mmHg","titlePadding":11,"values":[-10,-9,-8,-7,-6,-5,-4,-3,-2,-1,0],"format":"d","labelExpr":"abs(round(datum.value))%2==0 ? replace(datum.label,'−','-') : ''","tickSize":{"condition":{"test":"abs(round(datum.value))%2==0","value":4},"value":2}}},"text":{"field":"t"}}}
]},
{"width":184,"height":122,"title":"Total-chol","layer":[
 {"transform":[{"filter":"datum.p=='Total-chol' && datum.x==0 && datum.g=='INT'"}],"mark":{"type":"rule","strokeDash":[1.5,1.5],"color":"#333","strokeWidth":0.9},"encoding":{"y":{"datum":0,"type":"quantitative","scale":{"domain":[-30,0],"nice":false,"zero":false},"axis":{"title":"mg/dl","titlePadding":8,"values":[-30,-25,-20,-15,-10,-5,0],"format":"d","labelExpr":"abs(round(datum.value))%10==0 ? replace(datum.label,'−','-') : ''","tickSize":{"condition":{"test":"abs(round(datum.value))%10==0","value":4},"value":2}}}}},
 {"transform":[{"filter":"datum.p=='Total-chol' && datum.x>0"}],"mark":{"type":"errorbar","ticks":true,"size":7,"thickness":1,"opacity":0.75},"encoding":{"x":{"field":"x","type":"quantitative","scale":{"domain":[0,7],"nice":false},"axis":{"title":"years","values":[0,1,2,3,4,5,6,7],"format":"d"}},"y":{"field":"lo","type":"quantitative","scale":{"domain":[-30,0],"nice":false,"zero":false},"axis":{"title":"mg/dl","titlePadding":8,"values":[-30,-25,-20,-15,-10,-5,0],"format":"d","labelExpr":"abs(round(datum.value))%10==0 ? replace(datum.label,'−','-') : ''","tickSize":{"condition":{"test":"abs(round(datum.value))%10==0","value":4},"value":2}}},"y2":{"field":"hi"},"color":{"field":"g","type":"nominal","scale":{"domain":["INT","STD"],"range":["#19c819","#1414ff"]}}}},
 {"transform":[{"filter":"datum.p=='Total-chol'"}],"mark":{"type":"line","strokeWidth":1.2},"encoding":{"x":{"field":"x","type":"quantitative","scale":{"domain":[0,7],"nice":false},"axis":{"title":"years","values":[0,1,2,3,4,5,6,7],"format":"d"}},"y":{"field":"m","type":"quantitative","scale":{"domain":[-30,0],"nice":false,"zero":false},"axis":{"title":"mg/dl","titlePadding":8,"values":[-30,-25,-20,-15,-10,-5,0],"format":"d","labelExpr":"abs(round(datum.value))%10==0 ? replace(datum.label,'−','-') : ''","tickSize":{"condition":{"test":"abs(round(datum.value))%10==0","value":4},"value":2}}},"color":{"field":"g","type":"nominal","scale":{"domain":["INT","STD"],"range":["#19c819","#1414ff"]}}}},
 {"transform":[{"filter":"datum.p=='Total-chol'"}],"mark":{"type":"point","filled":true,"size":56,"strokeWidth":0,"opacity":1},"encoding":{"x":{"field":"x","type":"quantitative","scale":{"domain":[0,7],"nice":false},"axis":{"title":"years","values":[0,1,2,3,4,5,6,7],"format":"d"}},"y":{"field":"m","type":"quantitative","scale":{"domain":[-30,0],"nice":false,"zero":false},"axis":{"title":"mg/dl","titlePadding":8,"values":[-30,-25,-20,-15,-10,-5,0],"format":"d","labelExpr":"abs(round(datum.value))%10==0 ? replace(datum.label,'−','-') : ''","tickSize":{"condition":{"test":"abs(round(datum.value))%10==0","value":4},"value":2}}},"color":{"field":"g","type":"nominal","scale":{"domain":["INT","STD"],"range":["#19c819","#1414ff"]},"legend":{"title":null,"orient":"none","legendX":136,"legendY":-17.5,"encode":{"symbols":{"update":{"stroke":{"signal":"datum.value=='INT' ? '#19c819' : '#1414ff'"},"strokeWidth":{"value":1.2}}}}}},"shape":{"field":"g","type":"nominal","scale":{"domain":["INT","STD"],"range":["M-1.3,0H1.3M0,-0.85L0.85,0.6L-0.85,0.6Z","M-1.3,0H1.3M-0.7,-0.7H0.7V0.7H-0.7Z"]},"legend":{"title":null,"orient":"none","legendX":136,"legendY":-17.5,"encode":{"symbols":{"update":{"stroke":{"signal":"datum.value=='INT' ? '#19c819' : '#1414ff'"},"strokeWidth":{"value":1.2}}}}}}}},
 {"data":{"name":"notes"},"transform":[{"filter":"datum.p=='Total-chol'"}],"mark":{"type":"text","align":"left","baseline":"middle","fontWeight":"bold","fontSize":6.3,"color":"black"},"encoding":{"x":{"field":"x","type":"quantitative","axis":{"title":"years","values":[0,1,2,3,4,5,6,7],"format":"d"}},"y":{"field":"y","type":"quantitative","axis":{"title":"mg/dl","titlePadding":8,"values":[-30,-25,-20,-15,-10,-5,0],"format":"d","labelExpr":"abs(round(datum.value))%10==0 ? replace(datum.label,'−','-') : ''","tickSize":{"condition":{"test":"abs(round(datum.value))%10==0","value":4},"value":2}}},"text":{"field":"t"}}}
]},
{"width":184,"height":122,"title":"LDL-chol","layer":[
 {"transform":[{"filter":"datum.p=='LDL-chol' && datum.x==0 && datum.g=='INT'"}],"mark":{"type":"rule","strokeDash":[1.5,1.5],"color":"#333","strokeWidth":0.9},"encoding":{"y":{"datum":0,"type":"quantitative","scale":{"domain":[-30,0],"nice":false,"zero":false},"axis":{"title":"mg/dl","titlePadding":5,"values":[-30,-25,-20,-15,-10,-5,0],"format":"d","labelExpr":"abs(round(datum.value))%10==0 ? replace(datum.label,'−','-') : ''","tickSize":{"condition":{"test":"abs(round(datum.value))%10==0","value":4},"value":2}}}}},
 {"transform":[{"filter":"datum.p=='LDL-chol' && datum.x>0"}],"mark":{"type":"errorbar","ticks":true,"size":7,"thickness":1,"opacity":0.75},"encoding":{"x":{"field":"x","type":"quantitative","scale":{"domain":[0,7],"nice":false},"axis":{"title":"years","values":[0,1,2,3,4,5,6,7],"format":"d"}},"y":{"field":"lo","type":"quantitative","scale":{"domain":[-30,0],"nice":false,"zero":false},"axis":{"title":"mg/dl","titlePadding":5,"values":[-30,-25,-20,-15,-10,-5,0],"format":"d","labelExpr":"abs(round(datum.value))%10==0 ? replace(datum.label,'−','-') : ''","tickSize":{"condition":{"test":"abs(round(datum.value))%10==0","value":4},"value":2}}},"y2":{"field":"hi"},"color":{"field":"g","type":"nominal","scale":{"domain":["INT","STD"],"range":["#19c819","#1414ff"]}}}},
 {"transform":[{"filter":"datum.p=='LDL-chol'"}],"mark":{"type":"line","strokeWidth":1.2},"encoding":{"x":{"field":"x","type":"quantitative","scale":{"domain":[0,7],"nice":false},"axis":{"title":"years","values":[0,1,2,3,4,5,6,7],"format":"d"}},"y":{"field":"m","type":"quantitative","scale":{"domain":[-30,0],"nice":false,"zero":false},"axis":{"title":"mg/dl","titlePadding":5,"values":[-30,-25,-20,-15,-10,-5,0],"format":"d","labelExpr":"abs(round(datum.value))%10==0 ? replace(datum.label,'−','-') : ''","tickSize":{"condition":{"test":"abs(round(datum.value))%10==0","value":4},"value":2}}},"color":{"field":"g","type":"nominal","scale":{"domain":["INT","STD"],"range":["#19c819","#1414ff"]}}}},
 {"transform":[{"filter":"datum.p=='LDL-chol'"}],"mark":{"type":"point","filled":true,"size":56,"strokeWidth":0,"opacity":1},"encoding":{"x":{"field":"x","type":"quantitative","scale":{"domain":[0,7],"nice":false},"axis":{"title":"years","values":[0,1,2,3,4,5,6,7],"format":"d"}},"y":{"field":"m","type":"quantitative","scale":{"domain":[-30,0],"nice":false,"zero":false},"axis":{"title":"mg/dl","titlePadding":5,"values":[-30,-25,-20,-15,-10,-5,0],"format":"d","labelExpr":"abs(round(datum.value))%10==0 ? replace(datum.label,'−','-') : ''","tickSize":{"condition":{"test":"abs(round(datum.value))%10==0","value":4},"value":2}}},"color":{"field":"g","type":"nominal","scale":{"domain":["INT","STD"],"range":["#19c819","#1414ff"]},"legend":{"title":null,"orient":"none","legendX":136,"legendY":-17.5,"encode":{"symbols":{"update":{"stroke":{"signal":"datum.value=='INT' ? '#19c819' : '#1414ff'"},"strokeWidth":{"value":1.2}}}}}},"shape":{"field":"g","type":"nominal","scale":{"domain":["INT","STD"],"range":["M-1.3,0H1.3M0,-0.85L0.85,0.6L-0.85,0.6Z","M-1.3,0H1.3M-0.7,-0.7H0.7V0.7H-0.7Z"]},"legend":{"title":null,"orient":"none","legendX":136,"legendY":-17.5,"encode":{"symbols":{"update":{"stroke":{"signal":"datum.value=='INT' ? '#19c819' : '#1414ff'"},"strokeWidth":{"value":1.2}}}}}}}},
 {"data":{"name":"notes"},"transform":[{"filter":"datum.p=='LDL-chol'"}],"mark":{"type":"text","align":"left","baseline":"middle","fontWeight":"bold","fontSize":6.3,"color":"black"},"encoding":{"x":{"field":"x","type":"quantitative","axis":{"title":"years","values":[0,1,2,3,4,5,6,7],"format":"d"}},"y":{"field":"y","type":"quantitative","axis":{"title":"mg/dl","titlePadding":5,"values":[-30,-25,-20,-15,-10,-5,0],"format":"d","labelExpr":"abs(round(datum.value))%10==0 ? replace(datum.label,'−','-') : ''","tickSize":{"condition":{"test":"abs(round(datum.value))%10==0","value":4},"value":2}}},"text":{"field":"t"}}}
]},
{"width":184,"height":122,"title":"Triglycerides","layer":[
 {"transform":[{"filter":"datum.p=='Triglycerides' && datum.x==0 && datum.g=='INT'"}],"mark":{"type":"rule","strokeDash":[1.5,1.5],"color":"#333","strokeWidth":0.9},"encoding":{"y":{"datum":0,"type":"quantitative","scale":{"domain":[-30,20],"nice":false,"zero":false},"axis":{"title":"mg/dl","titlePadding":7,"values":[-30,-25,-20,-15,-10,-5,0,5,10,15,20],"format":"d","labelExpr":"abs(round(datum.value))%10==0 ? replace(datum.label,'−','-') : ''","tickSize":{"condition":{"test":"abs(round(datum.value))%10==0","value":4},"value":2}}}}},
 {"transform":[{"filter":"datum.p=='Triglycerides' && datum.x>0"}],"mark":{"type":"errorbar","ticks":true,"size":7,"thickness":1,"opacity":0.75},"encoding":{"x":{"field":"x","type":"quantitative","scale":{"domain":[0,7],"nice":false},"axis":{"title":"years","values":[0,1,2,3,4,5,6,7],"format":"d"}},"y":{"field":"lo","type":"quantitative","scale":{"domain":[-30,20],"nice":false,"zero":false},"axis":{"title":"mg/dl","titlePadding":7,"values":[-30,-25,-20,-15,-10,-5,0,5,10,15,20],"format":"d","labelExpr":"abs(round(datum.value))%10==0 ? replace(datum.label,'−','-') : ''","tickSize":{"condition":{"test":"abs(round(datum.value))%10==0","value":4},"value":2}}},"y2":{"field":"hi"},"color":{"field":"g","type":"nominal","scale":{"domain":["INT","STD"],"range":["#19c819","#1414ff"]}}}},
 {"transform":[{"filter":"datum.p=='Triglycerides'"}],"mark":{"type":"line","strokeWidth":1.2},"encoding":{"x":{"field":"x","type":"quantitative","scale":{"domain":[0,7],"nice":false},"axis":{"title":"years","values":[0,1,2,3,4,5,6,7],"format":"d"}},"y":{"field":"m","type":"quantitative","scale":{"domain":[-30,20],"nice":false,"zero":false},"axis":{"title":"mg/dl","titlePadding":7,"values":[-30,-25,-20,-15,-10,-5,0,5,10,15,20],"format":"d","labelExpr":"abs(round(datum.value))%10==0 ? replace(datum.label,'−','-') : ''","tickSize":{"condition":{"test":"abs(round(datum.value))%10==0","value":4},"value":2}}},"color":{"field":"g","type":"nominal","scale":{"domain":["INT","STD"],"range":["#19c819","#1414ff"]}}}},
 {"transform":[{"filter":"datum.p=='Triglycerides'"}],"mark":{"type":"point","filled":true,"size":56,"strokeWidth":0,"opacity":1},"encoding":{"x":{"field":"x","type":"quantitative","scale":{"domain":[0,7],"nice":false},"axis":{"title":"years","values":[0,1,2,3,4,5,6,7],"format":"d"}},"y":{"field":"m","type":"quantitative","scale":{"domain":[-30,20],"nice":false,"zero":false},"axis":{"title":"mg/dl","titlePadding":7,"values":[-30,-25,-20,-15,-10,-5,0,5,10,15,20],"format":"d","labelExpr":"abs(round(datum.value))%10==0 ? replace(datum.label,'−','-') : ''","tickSize":{"condition":{"test":"abs(round(datum.value))%10==0","value":4},"value":2}}},"color":{"field":"g","type":"nominal","scale":{"domain":["INT","STD"],"range":["#19c819","#1414ff"]},"legend":{"title":null,"orient":"none","legendX":136,"legendY":-17.5,"encode":{"symbols":{"update":{"stroke":{"signal":"datum.value=='INT' ? '#19c819' : '#1414ff'"},"strokeWidth":{"value":1.2}}}}}},"shape":{"field":"g","type":"nominal","scale":{"domain":["INT","STD"],"range":["M-1.3,0H1.3M0,-0.85L0.85,0.6L-0.85,0.6Z","M-1.3,0H1.3M-0.7,-0.7H0.7V0.7H-0.7Z"]},"legend":{"title":null,"orient":"none","legendX":136,"legendY":-17.5,"encode":{"symbols":{"update":{"stroke":{"signal":"datum.value=='INT' ? '#19c819' : '#1414ff'"},"strokeWidth":{"value":1.2}}}}}}}},
 {"data":{"name":"notes"},"transform":[{"filter":"datum.p=='Triglycerides'"}],"mark":{"type":"text","align":"left","baseline":"middle","fontWeight":"bold","fontSize":6.3,"color":"black"},"encoding":{"x":{"field":"x","type":"quantitative","axis":{"title":"years","values":[0,1,2,3,4,5,6,7],"format":"d"}},"y":{"field":"y","type":"quantitative","axis":{"title":"mg/dl","titlePadding":7,"values":[-30,-25,-20,-15,-10,-5,0,5,10,15,20],"format":"d","labelExpr":"abs(round(datum.value))%10==0 ? replace(datum.label,'−','-') : ''","tickSize":{"condition":{"test":"abs(round(datum.value))%10==0","value":4},"value":2}}},"text":{"field":"t"}}}
]},
{"width":184,"height":122,"title":"HDL-chol","layer":[
 {"transform":[{"filter":"datum.p=='HDL-chol' && datum.x==0 && datum.g=='INT'"}],"mark":{"type":"rule","strokeDash":[1.5,1.5],"color":"#333","strokeWidth":0.9},"encoding":{"y":{"datum":0,"type":"quantitative","scale":{"domain":[0,4],"nice":false,"zero":false},"axis":{"title":"mg/dl","titlePadding":7.5,"values":[0,0.5,1,1.5,2,2.5,3,3.5,4],"format":"d","labelExpr":"abs(round(datum.value*2))%2==0 ? replace(datum.label,'−','-') : ''","tickSize":{"condition":{"test":"abs(round(datum.value*2))%2==0","value":4},"value":2}}}}},
 {"transform":[{"filter":"datum.p=='HDL-chol' && datum.x>0"}],"mark":{"type":"errorbar","ticks":true,"size":7,"thickness":1,"opacity":0.75},"encoding":{"x":{"field":"x","type":"quantitative","scale":{"domain":[0,7],"nice":false},"axis":{"title":"years","values":[0,1,2,3,4,5,6,7],"format":"d"}},"y":{"field":"lo","type":"quantitative","scale":{"domain":[0,4],"nice":false,"zero":false},"axis":{"title":"mg/dl","titlePadding":7.5,"values":[0,0.5,1,1.5,2,2.5,3,3.5,4],"format":"d","labelExpr":"abs(round(datum.value*2))%2==0 ? replace(datum.label,'−','-') : ''","tickSize":{"condition":{"test":"abs(round(datum.value*2))%2==0","value":4},"value":2}}},"y2":{"field":"hi"},"color":{"field":"g","type":"nominal","scale":{"domain":["INT","STD"],"range":["#19c819","#1414ff"]}}}},
 {"transform":[{"filter":"datum.p=='HDL-chol'"}],"mark":{"type":"line","strokeWidth":1.2},"encoding":{"x":{"field":"x","type":"quantitative","scale":{"domain":[0,7],"nice":false},"axis":{"title":"years","values":[0,1,2,3,4,5,6,7],"format":"d"}},"y":{"field":"m","type":"quantitative","scale":{"domain":[0,4],"nice":false,"zero":false},"axis":{"title":"mg/dl","titlePadding":7.5,"values":[0,0.5,1,1.5,2,2.5,3,3.5,4],"format":"d","labelExpr":"abs(round(datum.value*2))%2==0 ? replace(datum.label,'−','-') : ''","tickSize":{"condition":{"test":"abs(round(datum.value*2))%2==0","value":4},"value":2}}},"color":{"field":"g","type":"nominal","scale":{"domain":["INT","STD"],"range":["#19c819","#1414ff"]}}}},
 {"transform":[{"filter":"datum.p=='HDL-chol'"}],"mark":{"type":"point","filled":true,"size":56,"strokeWidth":0,"opacity":1},"encoding":{"x":{"field":"x","type":"quantitative","scale":{"domain":[0,7],"nice":false},"axis":{"title":"years","values":[0,1,2,3,4,5,6,7],"format":"d"}},"y":{"field":"m","type":"quantitative","scale":{"domain":[0,4],"nice":false,"zero":false},"axis":{"title":"mg/dl","titlePadding":7.5,"values":[0,0.5,1,1.5,2,2.5,3,3.5,4],"format":"d","labelExpr":"abs(round(datum.value*2))%2==0 ? replace(datum.label,'−','-') : ''","tickSize":{"condition":{"test":"abs(round(datum.value*2))%2==0","value":4},"value":2}}},"color":{"field":"g","type":"nominal","scale":{"domain":["INT","STD"],"range":["#19c819","#1414ff"]},"legend":{"title":null,"orient":"none","legendX":136,"legendY":-17.5,"encode":{"symbols":{"update":{"stroke":{"signal":"datum.value=='INT' ? '#19c819' : '#1414ff'"},"strokeWidth":{"value":1.2}}}}}},"shape":{"field":"g","type":"nominal","scale":{"domain":["INT","STD"],"range":["M-1.3,0H1.3M0,-0.85L0.85,0.6L-0.85,0.6Z","M-1.3,0H1.3M-0.7,-0.7H0.7V0.7H-0.7Z"]},"legend":{"title":null,"orient":"none","legendX":136,"legendY":-17.5,"encode":{"symbols":{"update":{"stroke":{"signal":"datum.value=='INT' ? '#19c819' : '#1414ff'"},"strokeWidth":{"value":1.2}}}}}}}},
 {"data":{"name":"notes"},"transform":[{"filter":"datum.p=='HDL-chol'"}],"mark":{"type":"text","align":"left","baseline":"middle","fontWeight":"bold","fontSize":6.3,"color":"black"},"encoding":{"x":{"field":"x","type":"quantitative","axis":{"title":"years","values":[0,1,2,3,4,5,6,7],"format":"d"}},"y":{"field":"y","type":"quantitative","axis":{"title":"mg/dl","titlePadding":7.5,"values":[0,0.5,1,1.5,2,2.5,3,3.5,4],"format":"d","labelExpr":"abs(round(datum.value*2))%2==0 ? replace(datum.label,'−','-') : ''","tickSize":{"condition":{"test":"abs(round(datum.value*2))%2==0","value":4},"value":2}}},"text":{"field":"t"}}}
]}
],
"resolve":{"scale":{"color":"independent","shape":"independent"},"legend":{"color":"independent","shape":"independent"}},
"config":{
 "font":"Liberation Sans",
 "view":{"stroke":null},
 "title":{"fontSize":7.5,"fontWeight":"bold","color":"black","offset":-9,"anchor":"middle"},
 "axis":{"grid":false,"domainColor":"black","domainWidth":1.5,"tickColor":"black","tickWidth":1.3,"labelColor":"black","labelFontWeight":"bold","labelFontSize":6.8,"titleColor":"black","titleFontWeight":"bold","titleFontSize":6.8,"labelFlush":false,"labelOverlap":false},
 "axisX":{"tickSize":4,"labelPadding":1,"titlePadding":2},
 "axisY":{"labelPadding":2},
 "legend":{"labelFontSize":6,"labelColor":"black","symbolSize":56,"rowPadding":0,"padding":0,"labelOffset":2.5,"symbolStrokeWidth":1.2}
}
}
